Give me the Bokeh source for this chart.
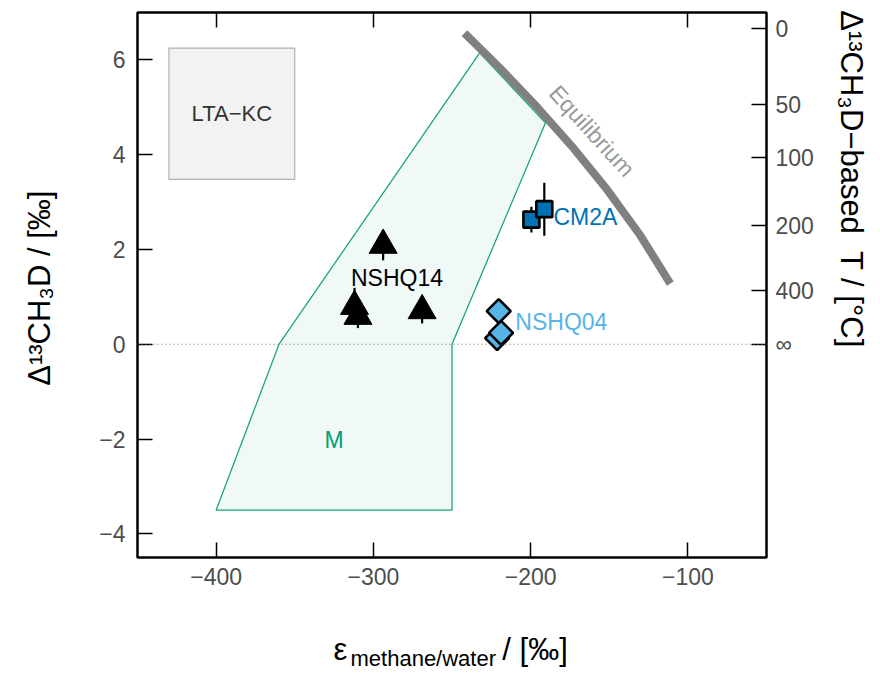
import math
from bokeh.plotting import figure
from bokeh.models import (Range1d, LinearAxis, FixedTicker, Label, Span)
from bokeh.core.properties import value
from bokeh.embed import file_html
from bokeh.resources import INLINE

# ---------------- data ----------------
x_ticks = [-400, -300, -200, -100]
y_ticks = [-4, -2, 0, 2, 4, 6]
t_labels = ["0", "50", "100", "200", "400", "\u221e"]
t_positions = [6.66, 5.05, 3.93, 2.50, 1.13, 0.0]   # Δ13CH3D of each temperature tick

# equilibrium curve
eq_x = [-242.1, -219.2, -195.9, -172.6, -151.4, -130.2, -111.2]
eq_y = [6.563, 5.818, 5.005, 4.132, 3.264, 2.294, 1.281]

# microbial field "M"
m_x = [-400, -250, -250, -190.6, -232.4, -360]
m_y = [-3.5, -3.5, 0.0, 4.67, 6.15, 0.0]

# LTA-KC box
lta_left, lta_right, lta_bottom, lta_top = [-430], [-350], [3.48], [6.25]

# samples
nshq14_x = [-293.8, -312.0, -309.8, -269.0]
nshq14_y = [2.09, 0.80, 0.59, 0.71]
nshq14_err = [0.32, 0.39, 0.25, 0.27]

cm2a_x = [-199.5, -191.3]
cm2a_y = [2.63, 2.85]
cm2a_err = [0.27, 0.56]

nshq04_x = [-220.3, -221.3, -218.8]
nshq04_y = [0.70, 0.13, 0.24]
nshq04_err = [0.2, 0.1, 0.1]

FONT = "Liberation Sans"
TICK_COL = "#4d4d4d"

p = figure(width=880, height=671, x_range=Range1d(-450, -50), y_range=Range1d(-4.5, 7),
           output_backend="svg", toolbar_location=None,
           min_border_left=137, min_border_right=114, min_border_top=12, min_border_bottom=114)
p.grid.visible = False
p.outline_line_color = "black"
p.outline_line_width = 2.5
p.background_fill_color = "white"
p.border_fill_color = "white"

def style_axis(ax, ticks, labels=None, show_labels=True):
    ax.ticker = FixedTicker(ticks=ticks)
    ax.axis_line_color = None
    ax.major_tick_in = 15
    ax.major_tick_out = 0
    ax.minor_tick_in = 0
    ax.minor_tick_out = 0
    ax.major_tick_line_color = "black"
    ax.major_tick_line_width = 1.5
    ax.major_label_text_font = FONT
    ax.major_label_text_font_size = "23px"
    ax.major_label_text_color = TICK_COL if show_labels else None
    if labels is None:
        labels = [str(t).replace("-", "\u2212") for t in ticks] if show_labels else [" "] * len(ticks)
    ax.major_label_overrides = {t: l for t, l in zip(ticks, labels)}

style_axis(p.xaxis[0], x_ticks)
p.xaxis[0].major_label_standoff = 10
style_axis(p.yaxis[0], y_ticks)
p.yaxis[0].major_label_standoff = 12

top = LinearAxis()
style_axis(top, x_ticks, show_labels=False)
top.major_label_standoff = 0
p.add_layout(top, "above")

right = LinearAxis()
style_axis(right, t_positions, labels=t_labels)
right.major_label_standoff = 9
p.add_layout(right, "right")

# ---------------- marks ----------------
p.patch(m_x, m_y, fill_color="#009E73", fill_alpha=0.06, line_color="#1aa57c", line_width=1.3)
p.quad(left=lta_left, right=lta_right, bottom=lta_bottom, top=lta_top,
       fill_color="#f2f2f2", line_color="#b0b0b0", line_width=1.2)
p.add_layout(Span(location=0, dimension="width", line_color="#666666", line_width=1.2, line_dash="1 3"))
p.line(eq_x, eq_y, line_width=8, line_color="#808080", line_cap="butt", line_join="round")

def errbars(xs, ys, es):
    p.segment(x0=xs, y0=[y - e for y, e in zip(ys, es)], x1=xs, y1=[y + e for y, e in zip(ys, es)],
              line_color="black", line_width=2.2)

errbars(nshq14_x, nshq14_y, nshq14_err)
errbars(cm2a_x, cm2a_y, cm2a_err)
errbars(nshq04_x, nshq04_y, nshq04_err)

p.scatter(nshq14_x, nshq14_y, marker="triangle", size=28, fill_color="black", line_color="black")
p.scatter(cm2a_x, cm2a_y, marker="square", size=16, fill_color="#0072B2", line_color="black", line_width=2.6)
p.scatter(nshq04_x, nshq04_y, marker="square", angle=math.pi / 4, size=17, fill_color="#56B4E9",
          line_color="black", line_width=2.6)

def txt(x, y, s, color, align="center", size="23px", angle=0.0):
    p.text(x=[x], y=[y], text=[s], text_color=color, text_font=value(FONT), text_font_size=size,
           text_align=align, text_baseline="middle", angle=angle)

txt(-390, 4.87, "LTA\u2212KC", "#333333", size="22px")
txt(-285, 1.40, "NSHQ14", "black")
txt(-185.5, 2.68, "CM2A", "#0072B2", align="left")
txt(-209.7, 0.47, "NSHQ04", "#56B4E9", align="left")
txt(-325, -2.03, "M", "#009E73")
txt(-161, 4.50, "Equilibrium", "#999999", size="23px", angle=-0.833)

# ---------------- axis titles ----------------
S = 31
NB = "\u00a0"
SP = 0.278 * S

def lab(side, x, y, xo, yo, text, size, angle=0.0, align="left", style="normal"):
    p.add_layout(Label(x=x, y=y, x_offset=xo, y_offset=yo, text=text, angle=angle,
                       text_font=FONT, text_font_size=f"{size}px", text_font_style=style,
                       text_align=align, text_baseline="middle", text_color="black"), side)

# left title: reads upward, centred at the middle of the frame
lab("left", -450, 1.183, -98, 0, "\u0394\u00b9\u00b3CH\u2083D / [\u2030]", S,
    angle=math.pi / 2, align="center")

# right title: reads downward from the top of the frame
t_start = 238.6                 # distance (px) from the top of the frame to the T
lab("left", -50, 7, 85, -(t_start - 2 * SP), "\u0394\u00b9\u00b3CH\u2083D\u2212based", S,
    angle=-math.pi / 2, align="right")
lab("right", -50, 7, 85, -t_start, "T / [\u00b0C]", S, angle=-math.pi / 2, align="left")

# bottom title: epsilon with subscript
bx = 333 - 137
lab("below", -450, -4.5, bx, -92, "\u03b5" + NB * 18 + "/" + NB + "[\u2030]", S)
lab("below", -450, -4.5, bx + 17, -100.7, "methane/water", 22)

open("out.html", "w").write(file_html(p, INLINE))
